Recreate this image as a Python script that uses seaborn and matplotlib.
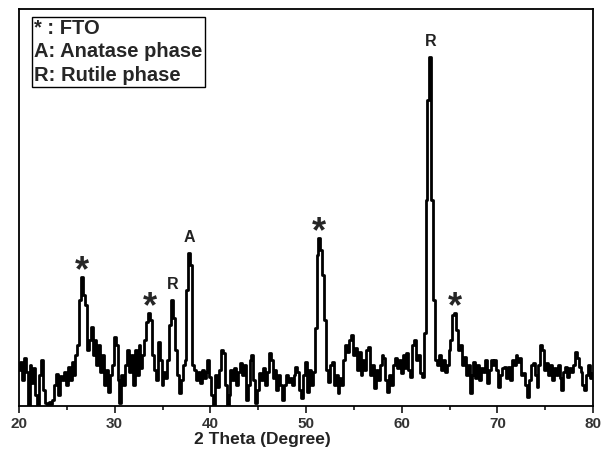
import numpy as np
import pandas as pd
import matplotlib
matplotlib.use("Agg")
import matplotlib.pyplot as plt
import seaborn as sns

# 2-theta grid (degrees) and intensity (a.u.)
two_theta_start, two_theta_stop, two_theta_step = 20.0, 80.0, 0.2
intensity = [
    36, 44, 26, 48, 34, 1, 41, 23, 38, 11,
    1, 31, 46, 16, 3, 1, 4, 2, 6, 21,
    32, 11, 30, 26, 34, 21, 39, 26, 44, 31,
    51, 61, 106, 129, 111, 101, 56, 66, 79, 51,
    66, 41, 61, 34, 51, 21, 36, 14, 31, 41,
    69, 61, 26, 3, 31, 21, 41, 56, 34, 51,
    21, 56, 31, 61, 38, 51, 66, 84, 93, 86,
    51, 36, 26, 64, 46, 21, 34, 28, 46, 81,
    106, 88, 56, 31, 13, 26, 41, 46, 116, 153,
    141, 41, 36, 26, 34, 23, 36, 28, 34, 46,
    29, 11, 1, 31, 19, 36, 56, 53, 21, 1,
    11, 36, 26, 38, 21, 34, 43, 31, 41, 6,
    21, 46, 51, 26, 3, 16, 33, 26, 38, 21,
    34, 53, 46, 28, 36, 16, 31, 21, 6, 21,
    31, 24, 28, 21, 31, 39, 34, 16, 8, 31,
    44, 14, 36, 21, 34, 78, 151, 168, 156, 131,
    86, 36, 24, 41, 44, 21, 31, 13, 28, 21,
    46, 61, 54, 66, 71, 51, 58, 36, 54, 31,
    46, 36, 56, 59, 31, 41, 18, 36, 26, 41,
    51, 48, 26, 14, 31, 21, 41, 48, 38, 46,
    33, 51, 38, 53, 36, 29, 61, 66, 46, 51,
    33, 29, 73, 206, 306, 349, 206, 106, 46, 41,
    51, 36, 46, 34, 41, 56, 66, 91, 93, 76,
    56, 61, 41, 49, 31, 41, 13, 31, 44, 28,
    41, 26, 38, 34, 46, 23, 36, 46, 41, 46,
    36, 19, 31, 38, 39, 28, 39, 26, 46, 41,
    51, 44, 48, 31, 33, 21, 9, 26, 41, 43,
    31, 19, 41, 61, 56, 36, 43, 31, 41, 26,
    38, 31, 41, 28, 16, 34, 39, 29, 38, 34,
    41, 54, 48, 39, 34, 21, 16, 31, 41, 28,
    33,
]
two_theta = np.round(np.arange(len(intensity)) * two_theta_step + two_theta_start, 2)

# peak markers: (2theta, label)
peak_pos = [26.6, 33.7, 36.1, 37.8, 51.4, 63.0, 65.6]
peak_lbl = ["*", "*", "R", "A", "*", "R", "*"]

legend_lines = ["* : FTO", "A: Anatase phase", "R: Rutile phase"]
x_ticks = [20, 30, 40, 50, 60, 70, 80]
x_label = "2 Theta (Degree)"

df = pd.DataFrame({"two_theta": two_theta, "intensity": intensity})

sns.set_style("ticks")
plt.rcParams["font.family"] = ["Liberation Sans", "DejaVu Sans"]

fig = plt.figure(figsize=(6.05, 4.51), dpi=100)
ax = fig.add_axes([19 / 605, 45 / 451, (593 - 19) / 605, (406 - 9) / 451])

sns.lineplot(data=df, x="two_theta", y="intensity", ax=ax, color="black",
             linewidth=2.0, estimator=None, sort=False, drawstyle="steps-mid")

ax.set_xlim(two_theta_start, two_theta_stop)
ax.set_ylim(0, 397)
ax.set_xticks(x_ticks)
ax.set_xticks([t + 5 for t in x_ticks[:-1]], minor=True)
ax.set_xticklabels([str(t) for t in x_ticks], fontsize=11, fontweight="bold",
                   color="#333333")
ax.set_yticks([])
ax.set_ylabel("")
ax.set_xlabel(x_label, fontsize=12.5, fontweight="bold", color="#222222")
ax.xaxis.set_label_coords((262 - 19) / 574, -0.065)
ax.tick_params(axis="x", which="major", direction="out", length=5, width=1.3, pad=3)
ax.tick_params(axis="x", which="minor", direction="out", length=3, width=1.3)
for s in ax.spines.values():
    s.set_visible(True)
    s.set_linewidth(1.3)
    s.set_color("black")

for pos, lbl in zip(peak_pos, peak_lbl):
    sel = df[(df.two_theta >= pos - 0.5) & (df.two_theta <= pos + 0.5)]
    top = sel.intensity.max()
    if lbl == "*":
        ax.annotate(lbl, xy=(pos, top), xytext=(0, -9), textcoords="offset points",
                    ha="center", va="bottom", fontsize=26, fontweight="bold")
    else:
        ax.annotate(lbl, xy=(pos, top), xytext=(0, 6), textcoords="offset points",
                    ha="center", va="bottom", fontsize=11.5, fontweight="bold",
                    color="#222222")

ax.text(0.026, 0.975, "\n".join(legend_lines), transform=ax.transAxes,
        ha="left", va="top", fontsize=14.5, fontweight="bold", linespacing=1.3,
        bbox=dict(boxstyle="square,pad=0.12", facecolor="white",
                  edgecolor="black", linewidth=1.0))

fig.savefig("out.png", dpi=100)
